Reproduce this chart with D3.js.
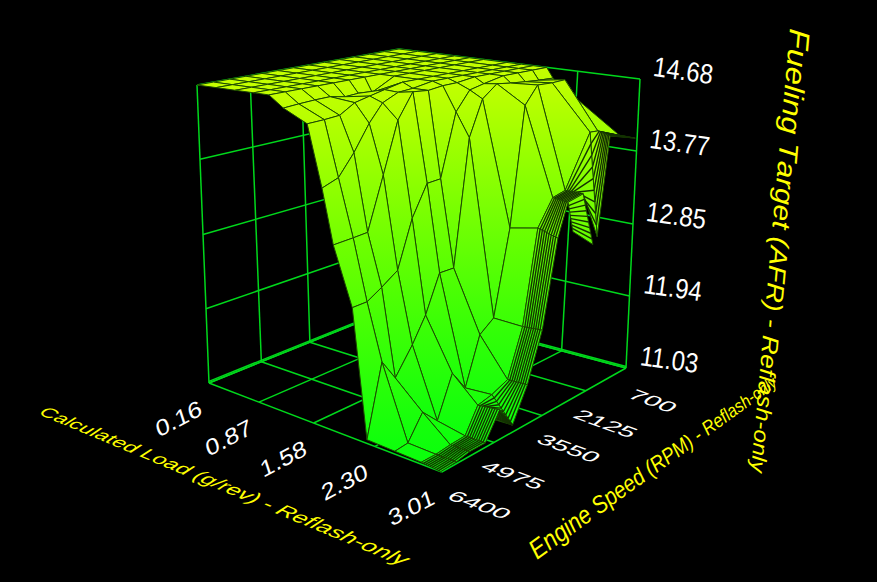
<!DOCTYPE html>
<html>
<head>
<meta charset="utf-8">
<script src="https://cdn.jsdelivr.net/npm/d3@7"></script>
<style>
html,body{margin:0;padding:0;background:#000;}
svg{display:block;}
text{font-family:"Liberation Sans",Arial,sans-serif;}
</style>
</head>
<body>
<div id="chart"></div>
<script>
var imgW = 877, imgH = 582;

var loadTicks = [0.16, 0.87, 1.58, 2.30, 3.01];
var rpmTicks = [700, 2125, 3550, 4975, 6400];
var afrTicks = [11.03, 11.94, 12.85, 13.77, 14.68];

var rpmCols = [6400,5962,5523,5085,4646,4208,3769,3331,2892,2454,2015,1577,1138,700];

// load at each table point, one row per load step, same order as rpmCols
var n = null;
var loadGrid = [
 [.16,.16,.16,.16,.16,.16,.16,.16,.16,.16,.16,.16,.16,.16],
 [.39,.39,.39,.39,.39,.39,.39,.39,.39,.39,.39,.39,.39,.39],
 [.62,.62,.62,.62,.62,.62,.62,.62,.62,.62,.62,.62,.62,.62],
 [.84,.84,.84,.84,.84,.84,.84,.84,.84,.84,.84,.84,.84,.84],
 [1.02,1.02,1.02,1.02,1.02,1.02,1.02,1.02,1.02,1.02,1.02,1.02,1.02,1.02],
 [1.19,1.18,1.18,1.17,1.16,1.13,1.11,1.19,1.19,1.19,1.19,1.19,1.19,1.19],
 [1.47,1.48,1.47,1.46,1.45,1.44,1.47,1.47,1.47,1.47,1.47,1.47,1.47,1.47],
 [1.65,1.65,1.64,1.63,1.60,1.60,1.59,1.64,1.64,1.64,1.64,1.64,1.64,1.64],
 [1.79,1.83,1.81,1.80,1.78,1.77,1.77,1.76,1.75,1.78,1.78,1.78,1.78,1.78],
 [2.02,2.00,1.98,1.98,1.96,1.95,1.93,1.92,1.90,1.89,1.94,1.94,1.94,1.94],
 [2.21,2.18,2.15,2.16,2.13,2.11,2.10,2.08,2.05,2.04,2.03,2.03,2.02,2.02],
 [2.52,2.48,2.46,2.45,2.44,2.42,2.41,2.40,2.40,2.37,2.34,2.34,2.32,2.32],
 [2.80,2.78,2.76,2.75,2.72,2.71,2.72,2.72,2.71,2.71,2.69,2.79,2.72,2.82],
 [3.00,2.99,2.96,2.96,2.95,2.93,2.93,2.93,2.93,2.88,2.89,2.91,2.86,2.99],
 [n,n,n,n,2.91,2.93,n,n,n,2.94,3.01,n,n,n]
];

// target AFR at the same points
var afrGrid = [
 [14.68,14.68,14.68,14.68,14.68,14.68,14.68,14.68,14.68,14.68,14.68,14.68,14.68,14.68],
 [14.68,14.68,14.68,14.68,14.68,14.68,14.68,14.68,14.68,14.68,14.68,14.68,14.68,14.68],
 [14.68,14.68,14.68,14.68,14.68,14.68,14.68,14.68,14.68,14.68,14.68,14.68,14.68,14.68],
 [14.68,14.68,14.68,14.68,14.68,14.68,14.68,14.68,14.68,14.68,14.68,14.68,14.68,14.68],
 [14.68,14.68,14.68,14.68,14.68,14.68,14.68,14.68,14.68,14.68,14.68,14.68,14.68,14.68],
 [14.55,14.56,14.57,14.57,14.53,14.53,14.50,14.68,14.68,14.68,14.68,14.68,14.68,14.68],
 [14.41,14.42,14.43,14.54,14.58,14.62,14.68,14.68,14.68,14.68,14.68,14.68,14.68,14.68],
 [13.71,13.78,14.02,14.32,14.52,14.61,14.62,14.68,14.68,14.68,14.68,14.68,14.68,14.68],
 [13.10,13.13,13.13,13.74,14.34,14.64,14.62,14.64,14.64,14.68,14.68,14.68,14.68,14.68],
 [12.46,12.45,12.54,12.67,13.21,13.57,13.57,14.34,14.57,14.61,14.68,14.68,14.68,14.68],
 [11.07,11.83,11.56,11.86,12.12,12.54,12.53,14.05,14.48,14.63,14.60,14.58,14.56,14.55],
 [11.06,11.04,11.28,11.09,11.54,11.28,11.82,11.94,12.96,14.41,14.62,14.61,14.61,14.31],
 [11.05,11.03,11.03,11.03,11.27,11.30,11.39,11.93,13.03,13.34,13.37,14.06,14.02,13.93],
 [11.03,11.03,11.03,11.03,11.30,11.03,11.40,11.95,12.96,13.32,13.37,12.79,13.98,13.93],
 [n,n,n,n,11.17,11.03,n,n,n,12.98,12.78,n,n,n]
];

var floorCorners = [[397,307],[626,368],[441.7,472],[209,383]];
var topCorners = [[399,49],[640,79],[444,119],[197,85]];

function homography(q){
  var sx=q[0][0]-q[1][0]+q[2][0]-q[3][0], sy=q[0][1]-q[1][1]+q[2][1]-q[3][1];
  var dx1=q[1][0]-q[2][0], dx2=q[3][0]-q[2][0], dy1=q[1][1]-q[2][1], dy2=q[3][1]-q[2][1];
  var den=dx1*dy2-dx2*dy1;
  var g=(sx*dy2-dx2*sy)/den, h=(dx1*sy-sx*dy1)/den;
  var a=q[1][0]-q[0][0]+g*q[1][0], b=q[3][0]-q[0][0]+h*q[3][0];
  var d=q[1][1]-q[0][1]+g*q[1][1], e=q[3][1]-q[0][1]+h*q[3][1];
  return function(u,v){
    var w=1+g*u+h*v;
    return [(q[0][0]+a*u+b*v)/w,(q[0][1]+d*u+e*v)/w];
  };
}
var floorH=homography(floorCorners), topH=homography(topCorners);

function project(u,v,h){
  var f=floorH(u,v), t=topH(u,v);
  return [f[0]+(t[0]-f[0])*h, f[1]+(t[1]-f[1])*h];
}

var uScale=d3.scaleLinear().domain([0.16,3.01]).range([0,1]);
var vScale=d3.scaleLinear().domain([700,6400]).range([0,1]);
var hScale=d3.scaleLinear().domain([11.03,14.68]).range([0,1]);
var colorScale=d3.scaleLinear().domain([11.03,12.85,14.68]).range(["#0cff0c","#64ff00","#c4ff00"]);

function P(load,rpm,afr){return project(uScale(load),vScale(rpm),hScale(afr));}

var svg=d3.select("#chart").append("svg").attr("width",imgW).attr("height",imgH);
svg.append("rect").attr("width",imgW).attr("height",imgH).attr("fill","#000");
var defs=svg.append("defs");

// walls and floor
var frame=svg.append("g").attr("fill","none").attr("stroke","#00d81c").attr("stroke-width",1.5);
var line=function(a,b){frame.append("line").attr("x1",a[0]).attr("y1",a[1]).attr("x2",b[0]).attr("y2",b[1]);};
var l0=loadTicks[0],l1=loadTicks[4],r0=rpmTicks[0],r1=rpmTicks[4],a0=afrTicks[0],a1=afrTicks[4];
afrTicks.forEach(function(a){
  line(P(l0,r1,a),P(l0,r0,a));
  line(P(l0,r0,a),P(l1,r0,a));
});
rpmTicks.forEach(function(r){
  line(P(l0,r,a0),P(l0,r,a1));
  line(P(l0,r,a0),P(l1,r,a0));
});
loadTicks.forEach(function(l){
  line(P(l,r0,a0),P(l,r0,a1));
  line(P(l,r1,a0),P(l,r0,a0));
});
// the back floor edges are drawn doubled in the original
[11.05].forEach(function(a){
  line(P(l0,r1,a),P(l0,r0,a));
  line(P(l0,r0,a),P(l1,r0,a));
});

// surface, far cells first
var surf=svg.append("g");
var nR=afrGrid.length,nC=rpmCols.length;
var pts=afrGrid.map(function(row,r){return row.map(function(a,c){
  return a===null?null:P(loadGrid[r][c],rpmCols[c],a);});});

function lerp(a,b,t){return [a[0]+(b[0]-a[0])*t,a[1]+(b[1]-a[1])*t];}

var hatchN=9,hatchRow=12,id=0;
for(var r=0;r<nR-1;r++){
  for(var c=nC-2;c>=0;c--){
    var q=[pts[r][c],pts[r][c+1],pts[r+1][c+1],pts[r+1][c]];
    if(q.some(function(p){return p===null;}))continue;
    var as=[afrGrid[r][c],afrGrid[r][c+1],afrGrid[r+1][c+1],afrGrid[r+1][c]];
    var ys=q.map(function(p){return p[1];});
    var gid="g"+(id++);
    var gr=defs.append("linearGradient").attr("id",gid).attr("gradientUnits","userSpaceOnUse")
      .attr("x1",0).attr("x2",0).attr("y1",d3.min(ys)).attr("y2",Math.max(d3.max(ys),d3.min(ys)+1));
    gr.append("stop").attr("offset",0).attr("stop-color",colorScale(d3.max(as)));
    gr.append("stop").attr("offset",1).attr("stop-color",colorScale(d3.min(as)));
    surf.append("polygon")
      .attr("points",q.map(function(p){return p.join(",");}).join(" "))
      .attr("fill","url(#"+gid+")")
      .attr("stroke","#1c4a00").attr("stroke-width",1);
    if(r>=hatchRow){
      for(var k=1;k<hatchN;k++){
        var a=lerp(q[0],q[3],k/hatchN),b=lerp(q[1],q[2],k/hatchN);
        surf.append("line").attr("x1",a[0]).attr("y1",a[1]).attr("x2",b[0]).attr("y2",b[1])
          .attr("stroke","#143200").attr("stroke-width",1.4);
      }
    }
  }
}

// tick labels
function tick(str,p,tr,size){
  svg.append("text").attr("transform","translate("+p[0]+","+p[1]+") "+tr)
    .attr("text-anchor","middle").attr("fill","#fff").attr("font-size",size).text(str);
}
loadTicks.forEach(function(l){
  var p=P(l,r1,a0);
  tick(l.toFixed(2),[p[0]-28,p[1]+43],"rotate(-28) skewX(-10) scale(1.3,1.1)",20);
});
var rpmDx=[22,15,22,14,33];
rpmTicks.forEach(function(t,i){
  var p=P(l1,t,a0);
  tick(String(t),[p[0]+rpmDx[i],p[1]+37],"rotate(20) skewX(-30) scale(1.4,.8)",20);
});
afrTicks.forEach(function(a){
  var p=P(l1,r0,a);
  tick(a.toFixed(2),[p[0]+42,p[1]+1],"rotate(8) scale(1,1.15)",24);
});

// titles, size changes along the line because of the perspective
var ctx=document.createElement("canvas").getContext("2d");
ctx.font='italic 100px "Liberation Sans"';
function title(str,x0,y0,x1,y1,s0,s1,sy,skew){
  var L=Math.hypot(x1-x0,y1-y0),ang=Math.atan2(y1-y0,x1-x0)*180/Math.PI;
  var adv=str.split("").map(function(ch){return ctx.measureText(ch).width/100;});
  var tot=d3.sum(adv),pos=0,sum=0,acc=0;
  adv.forEach(function(w){sum+=w*(s0+(s1-s0)*acc/tot);acc+=w;});
  var k=L/sum;
  acc=0;
  str.split("").forEach(function(ch,i){
    var s=s0+(s1-s0)*(acc/tot),t=pos/L;
    svg.append("text")
      .attr("transform","translate("+(x0+(x1-x0)*t)+","+(y0+(y1-y0)*t)+") rotate("+ang+") skewX("+skew+") scale("+k+","+sy+")")
      .attr("font-style","italic").attr("fill","#ffff00").attr("font-size",s).text(ch);
    pos+=adv[i]*s*k;acc+=adv[i];
  });
}
title("Calculated Load (g/rev) - Reflash-only",38,414,402,566,19,23,.8,-22);
title("Engine Speed (RPM) - Reflash-only",537,560,778,385,27,16,1,0);
title("Fueling Target (AFR) - Reflash-only",790,28,751,472,29,20,1,0);
</script>
</body>
</html>
